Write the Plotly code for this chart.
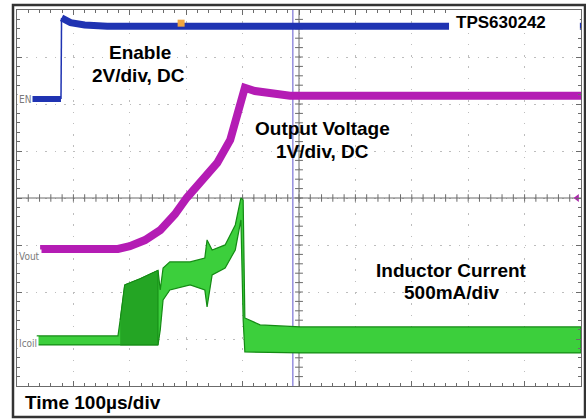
import plotly.graph_objects as go

# ---------------- data (read from the scope capture) ----------------
# time axis: 100 us/div, 10 divisions, trigger at centre (0 us)
# Enable, 2 V/div
en_t_us = [-482, -422, -421, -405, -380, -340, 0, 500]
en_v = [0.0, 0.0, 3.45, 3.25, 3.15, 3.10, 3.10, 3.10]

# Output voltage, 1 V/div
vout_t_us = [-459, -321, -300, -273, -246, -220, -199, -170, -145, -122, -105, -96, -78, -51, -16, 500]
vout_v = [0.0, 0.0, 0.06, 0.19, 0.40, 0.74, 1.09, 1.47, 1.83, 2.32, 2.96, 3.43, 3.36, 3.30, 3.26, 3.26]

# Inductor current envelope (ripple band), 500 mA/div
icoil_t_us = [-465, -321, -317, -309, -282, -250, -246, -241, -229, -193, -167, -163, -154, -131, -113, -103, -99, -96, -69, 2, 500]
icoil_hi_ma = [43, 43, 213, 585, 650, 740, 532, 766, 830, 830, 872, 1064, 957, 1011, 1223, 1511, 1489, 234, 160, 138, 138]
icoil_lo_ma = [-53, -53, -53, -53, -53, -53, 106, 426, 532, 585, 532, 351, 691, 766, 957, 1277, 213, -128, -128, -138, -138]

# channel settings (volts or mA per division, ground position in divisions)
en_scale, en_ground = 2.0, 2.106
vout_scale, vout_ground = 1.0, -1.085
icoil_scale, icoil_ground = 500.0, -3.02

cursor_t_us = -11

FONT = "Liberation Sans, Arial, sans-serif"
BLUE = "#1f33b2"
MAGENTA = "#b41cb4"
GREEN_FILL = "#3ccf3c"
GREEN_DARK = "#24a524"
GREEN_EDGE = "#148a14"


def to_div(vals, scale, ground):
    return [ground + v / scale for v in vals]


fig = go.Figure()

# centre axes with tick marks (scope graticule)
cx, cy = [], []
for k in range(1, 50):
    t = -500 + 20 * k
    cx += [t, t, None]
    cy += [-0.08, 0.08, None]
for k in range(1, 40):
    y = -4 + 0.2 * k
    cx += [-7, 7, None]
    cy += [y, y, None]
cx += [-500, 500, None, 0, 0]
cy += [0, 0, None, -4, 4]
fig.add_trace(go.Scatter(x=cx, y=cy, mode="lines",
                         line=dict(color="#6b6b6b", width=1),
                         hoverinfo="skip", showlegend=False))

# cursor
fig.add_trace(go.Scatter(x=[cursor_t_us, cursor_t_us], y=[-4, 4], mode="lines",
                         line=dict(color="#9a94e0", width=1.6),
                         hoverinfo="skip", showlegend=False))

# Inductor current band
ihi = to_div(icoil_hi_ma, icoil_scale, icoil_ground)
ilo = to_div(icoil_lo_ma, icoil_scale, icoil_ground)
fig.add_trace(go.Scatter(x=icoil_t_us + icoil_t_us[::-1], y=ihi + ilo[::-1],
                         mode="lines", fill="toself", fillcolor=GREEN_FILL,
                         line=dict(color=GREEN_EDGE, width=1.2),
                         hoverinfo="skip", showlegend=False))
# dense switching section (darker)
s, e = 2, 6
fig.add_trace(go.Scatter(x=icoil_t_us[s:e] + icoil_t_us[s:e][::-1],
                         y=ihi[s:e] + ilo[s:e][::-1],
                         mode="lines", fill="toself", fillcolor=GREEN_DARK,
                         line=dict(color=GREEN_EDGE, width=1),
                         hoverinfo="skip", showlegend=False))

# Output voltage
fig.add_trace(go.Scatter(x=vout_t_us, y=to_div(vout_v, vout_scale, vout_ground),
                         mode="lines", line=dict(color=MAGENTA, width=8),
                         hoverinfo="skip", showlegend=False))

# Enable (thick levels, thin edge)
en_y = to_div(en_v, en_scale, en_ground)
fig.add_trace(go.Scatter(x=en_t_us[:2], y=en_y[:2], mode="lines",
                         line=dict(color=BLUE, width=6), hoverinfo="skip", showlegend=False))
fig.add_trace(go.Scatter(x=en_t_us[1:3], y=en_y[1:3], mode="lines",
                         line=dict(color=BLUE, width=1.5), hoverinfo="skip", showlegend=False))
fig.add_trace(go.Scatter(x=en_t_us[2:], y=en_y[2:], mode="lines",
                         line=dict(color=BLUE, width=7), hoverinfo="skip", showlegend=False))

# trigger markers
fig.add_trace(go.Scatter(x=[-209], y=[3.72], mode="markers",
                         marker=dict(symbol="square", size=7, color="#f2a640"),
                         hoverinfo="skip", showlegend=False))
fig.add_trace(go.Scatter(x=[493], y=[0], mode="markers",
                         marker=dict(symbol="triangle-left", size=7, color="#a82aa8"),
                         hoverinfo="skip", showlegend=False))

axis_common = dict(showticklabels=False, zeroline=False, showline=True,
                   linecolor="#6b6b6b", linewidth=1, mirror="ticks",
                   ticks="inside", ticklen=5, tickcolor="#6b6b6b",
                   showgrid=True, gridcolor="#bdbdbd", gridwidth=1, fixedrange=True)

fig.update_layout(
    width=586, height=419,
    margin=dict(l=17, r=5, t=10, b=33),
    paper_bgcolor="white", plot_bgcolor="white",
    showlegend=False,
    xaxis=dict(range=[-500, 500], dtick=100, tick0=0, griddash="1.5px,9.78px",
               minor=dict(dtick=20, ticks="inside", ticklen=3, tickcolor="#6b6b6b", showgrid=False),
               **axis_common),
    yaxis=dict(range=[-4, 4], dtick=1, tick0=0, griddash="1.5px,7.9px",
               minor=dict(dtick=0.2, ticks="inside", ticklen=3, tickcolor="#6b6b6b", showgrid=False),
               **axis_common),
)

# outer frame and label box
fig.add_shape(type="rect", xref="paper", yref="paper",
              x0=-0.0071, x1=1.0071, y0=-0.0824, y1=1.0133,
              line=dict(color="#333333", width=2.5), fillcolor="rgba(0,0,0,0)", layer="above")
fig.add_shape(type="rect", xref="paper", yref="paper",
              x0=0.766, x1=0.998, y0=0.939, y1=1.0,
              line=dict(width=0), fillcolor="white", layer="above")

def txt(x, y, s, size=19, **kw):
    fig.add_annotation(x=x, y=y, text=s, showarrow=False,
                       font=dict(family=FONT, size=size, color="black"), **kw)

txt(-282, 3.106, "<b>Enable</b>")
txt(-284, 2.617, "<b>2V/div, DC</b>")
txt(41, 1.489, "<b>Output Voltage</b>")
txt(41, 1.0, "<b>1V/div, DC</b>")
txt(270, -1.532, "<b>Inductor Current</b>")
txt(270, -2.0, "<b>500mA/div</b>")
fig.add_annotation(xref="paper", yref="paper", x=0.774, y=0.968, xanchor="left",
                   yanchor="middle", text="<b>TPS630242</b>", showarrow=False,
                   font=dict(family=FONT, size=17, color="black"))
fig.add_annotation(xref="paper", yref="paper", x=0.0106, y=-0.045, xanchor="left",
                   yanchor="middle", text="<b>Time 100µs/div</b>", showarrow=False,
                   font=dict(family=FONT, size=19, color="black"))

# channel labels
for lab, ydiv in [("EN", 2.106), ("Vout", -1.255), ("Icoil", -3.085)]:
    fig.add_annotation(xref="paper", x=0.0, y=ydiv, xanchor="left", yanchor="middle",
                       text=lab, showarrow=False, bgcolor="white",
                       font=dict(family="DejaVu Sans Condensed, Liberation Sans Narrow, sans-serif",
                                 size=10, color="#7a7a7a"))

fig.write_html("out.html", config={"displayModeBar": False},
               post_script="document.body.style.margin='0';document.body.style.padding='0';")
